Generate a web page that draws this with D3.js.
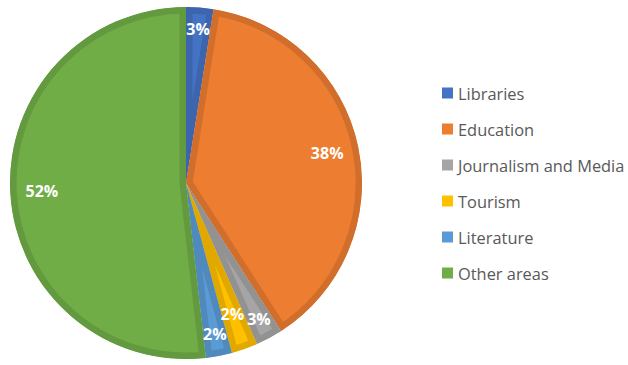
<!DOCTYPE html>
<html>
<head>
<meta charset="utf-8">
<script src="https://cdn.jsdelivr.net/npm/d3@7/dist/d3.min.js"></script>
<style>
  html, body { margin: 0; padding: 0; background: #fff; }
  svg { display: block; }
</style>
</head>
<body>
<svg id="chart" width="628" height="365"></svg>
<script>
// Share of graduates' employment by field
const categories = ["Libraries", "Education", "Journalism and Media", "Tourism", "Literature", "Other areas"];
const shares = [2.5, 38.4, 2.5, 2.4, 2.4, 51.8];
const colors = ["#4472C4", "#ED7D31", "#A5A5A5", "#FFC000", "#5B9BD5", "#70AD47"];

const width = 628, height = 365;
const cx = 186, cy = 183, radius = 176;
const bevel = 6.5;

const svg = d3.select("#chart");

const data = categories.map((name, i) => ({ name, value: shares[i], color: colors[i], index: i }));

const pie = d3.pie().value(d => d.value).sort(null);
const arcs = pie(data);
const arc = d3.arc().innerRadius(0).outerRadius(radius);

const g = svg.append("g").attr("transform", `translate(${cx},${cy})`);
const defs = svg.append("defs");

// each slice keeps its darker rim inside its own outline
arcs.forEach((a, i) => {
  defs.append("clipPath").attr("id", "slice-clip-" + i)
    .append("path").attr("d", arc(a));
});

g.selectAll("path.slice")
  .data(arcs)
  .join("path")
  .attr("class", "slice")
  .attr("d", arc)
  .attr("fill", d => d.data.color)
  .attr("stroke", d => d3.color(d.data.color).darker(0.35))
  .attr("stroke-width", bevel * 2)
  .attr("stroke-linejoin", "round")
  .attr("clip-path", (d, i) => `url(#slice-clip-${i})`);

// value labels placed just inside the rim; small neighbours are staggered
const fmt = d => Math.round(d.data.value) + "%";
let prevSmallOuter = false;
const labelRadius = arcs.map(a => {
  const small = a.data.value < 5;
  if (!small) { prevSmallOuter = false; return radius * 0.82; }
  if (prevSmallOuter) { prevSmallOuter = false; return radius * 0.79; }
  prevSmallOuter = true;
  return radius * 0.875;
});

g.selectAll("text.val")
  .data(arcs)
  .join("text")
  .attr("class", "val")
  .attr("x", (d, i) => Math.sin((d.startAngle + d.endAngle) / 2) * labelRadius[i])
  .attr("y", (d, i) => -Math.cos((d.startAngle + d.endAngle) / 2) * labelRadius[i])
  .attr("text-anchor", "middle")
  .attr("dominant-baseline", "central")
  .attr("font-family", "'Open Sans', 'DejaVu Sans', sans-serif")
  .attr("font-weight", "bold")
  .attr("font-size", 16)
  .attr("fill", "#ffffff")
  .text(fmt);

// legend
const legend = svg.append("g").attr("transform", "translate(442,93)");
const rowStep = 36;
const rows = legend.selectAll("g.row")
  .data(data)
  .join("g")
  .attr("class", "row")
  .attr("transform", (d, i) => `translate(0,${i * rowStep})`);

rows.append("rect")
  .attr("x", 0).attr("y", -5.5)
  .attr("width", 11).attr("height", 11)
  .attr("fill", d => d.color);

rows.append("text")
  .attr("x", 16).attr("y", 0)
  .attr("dominant-baseline", "central")
  .attr("font-family", "'Open Sans', 'DejaVu Sans', sans-serif")
  .attr("font-size", 16.4)
  .attr("fill", "#595959")
  .text(d => d.name);
</script>
</body>
</html>
